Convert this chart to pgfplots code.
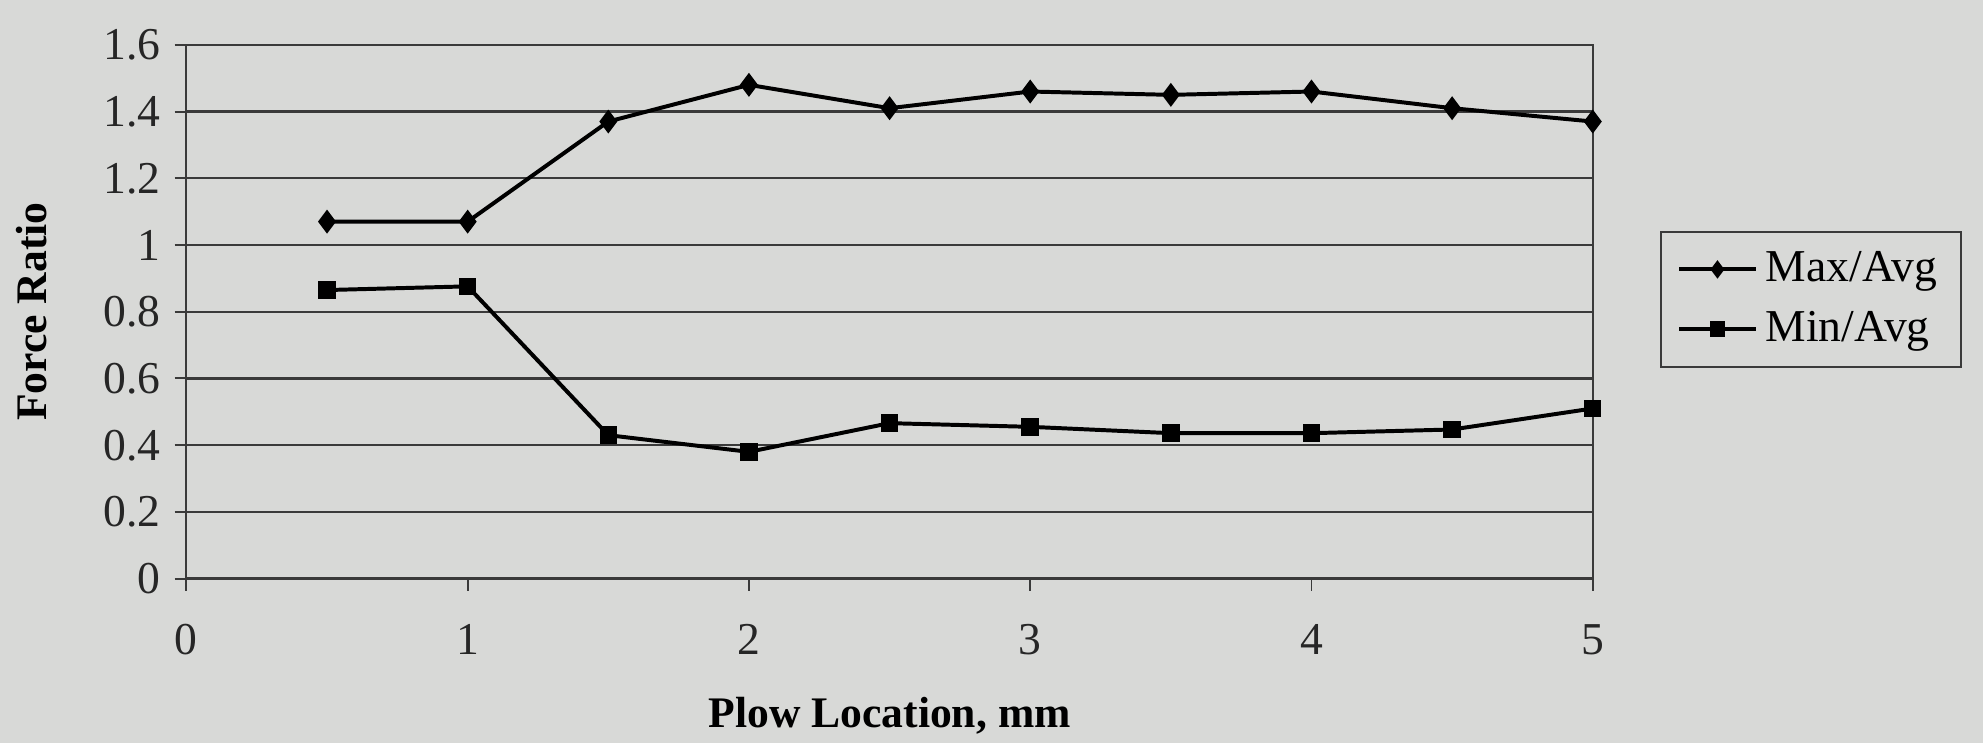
\documentclass[border=0pt]{standalone}
\usepackage{pgfplots}
\pgfplotsset{compat=1.18}
\usepackage{fontspec}
\setmainfont{Liberation Serif}
\definecolor{bg}{HTML}{D8D9D7}
\definecolor{gridc}{HTML}{3A3A3A}

\begin{document}
\begin{tikzpicture}
    % page extent and scanned-paper background
    \fill[bg] (-47pt,-41.4pt) rectangle (453pt,145.9pt);
    \useasboundingbox (-47pt,-41.4pt) rectangle (453pt,145.9pt);
    \begin{axis}[
        at={(0,0)}, anchor=origin,
        scale only axis,
        width=354.6pt, height=134.6pt,
        xmin=0, xmax=5, ymin=0, ymax=1.6,
        xtick={0,1,2,3,4,5},
        ytick={0,0.2,0.4,0.6,0.8,1,1.2,1.4,1.6},
        yticklabels={0,0.2,0.4,0.6,0.8,1,1.2,1.4,1.6},
        xticklabels={0,1,2,3,4,5},
        ymajorgrids,
        grid style={gridc, line width=0.6pt},
        axis line style={gridc, line width=0.5pt},
        tick style={gridc, line width=0.5pt},
        major tick length=3pt,
        tick align=outside,
        tick pos=left,
        ticklabel style={font=\fontsize{11.5}{13}\selectfont, text=black!85},
        yticklabel style={xshift=0pt},
        xticklabel style={yshift=-5pt},
        xlabel={\textbf{Plow Location, mm}},
        ylabel={\textbf{Force Ratio}},
        label style={font=\fontsize{11}{13}\selectfont},
        xlabel style={at={(0.5,0)}, anchor=center, yshift=-34.5pt},
        every axis y label/.append style={at={(-39pt,67.3pt)}, anchor=center},
        legend style={at={(1.048,0.652)}, anchor=north west,
            fill=bg, draw=gridc, line width=0.5pt,
            font=\fontsize{11.5}{13}\selectfont,
            inner xsep=4pt, inner ysep=3pt, row sep=2pt},
        legend cell align=left,
        legend image code/.code={%
            \draw[mark repeat=2, mark phase=2, line width=1pt, mark size=1.5pt]
                plot coordinates {(0cm,0cm) (0.34cm,0cm) (0.68cm,0cm)};},
    ]
    \addplot[black, line width=1pt, mark=diamond*, mark size=2.2pt] coordinates {
        (0.5,1.07) (1,1.07) (1.5,1.37) (2,1.48) (2.5,1.41)
        (3,1.46) (3.5,1.45) (4,1.46) (4.5,1.41) (5,1.37)
    };
    \addlegendentry{Max/Avg}
    \addplot[black, line width=1pt, mark=square*, mark size=1.7pt] coordinates {
        (0.5,0.865) (1,0.876) (1.5,0.43) (2,0.38) (2.5,0.466)
        (3,0.455) (3.5,0.436) (4,0.436) (4.5,0.447) (5,0.51)
    };
    \addlegendentry{Min/Avg}
    \end{axis}
\end{tikzpicture}
\end{document}
